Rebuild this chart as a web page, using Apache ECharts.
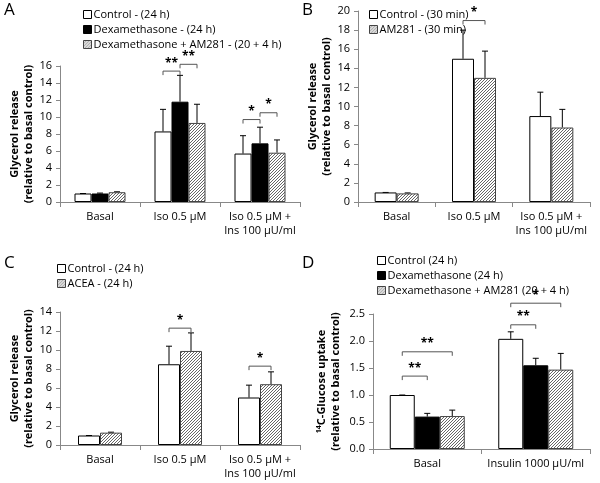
<!DOCTYPE html><html><head><meta charset="utf-8">
<script src="https://cdn.jsdelivr.net/npm/echarts@6/dist/echarts.min.js"></script>
<style>html,body{margin:0;background:#fff}#c{width:600px;height:483px}</style></head><body><div id="c"></div>
<script>
const catsA=['Basal','Iso 0.5 µM','Iso 0.5 µM +\nIns 100 µU/ml'];
const catsD=['Basal','Insulin 1000 µU/ml'];
const A_ctrl=[1.0,8.3,5.7], A_ctrlErr=[1.0,10.9,7.8];
const A_dex=[1.0,11.8,6.9], A_dexErr=[1.05,14.9,8.8];
const A_am=[1.15,9.3,5.8], A_amErr=[1.2,11.5,7.3];
const B_ctrl=[1.0,15.0,9.0], B_ctrlErr=[1.0,18.0,11.5];
const B_am=[0.9,13.0,7.8], B_amErr=[0.95,15.8,9.7];
const C_ctrl=[1.0,8.5,5.0], C_ctrlErr=[1.0,10.4,6.3];
const C_acea=[1.3,9.9,6.4], C_aceaErr=[1.35,11.8,7.7];
const D_ctrl=[1.0,2.04], D_ctrlErr=[1.0,2.17];
const D_dex=[0.6,1.55], D_dexErr=[0.66,1.68];
const D_am=[0.61,1.47], D_amErr=[0.72,1.77];
// brackets: [category, barA, barB, y, label]
const A_sig=[[1,0,1,15.4,'**'],[1,1,2,16.2,'**'],[2,0,1,9.7,'*'],[2,1,2,10.5,'*']];
const B_sig=[[1,0,1,19.0,'*']];
const C_sig=[[1,0,1,12.3,'*'],[2,0,1,8.3,'*']];
const D_sig=[[0,0,1,1.35,'**'],[0,0,2,1.8,'**'],[1,0,1,2.3,'**'],[1,0,2,2.7,'*']];

const cv=document.createElement('canvas');cv.width=3;cv.height=3;
const cx=cv.getContext('2d');cx.fillStyle='#fff';cx.fillRect(0,0,3,3);cx.fillStyle='#666';
cx.fillRect(2,0,1,1);cx.fillRect(1,1,1,1);cx.fillRect(0,2,1,1);
const hatch={image:cv,repeat:'repeat'};
const F='"Open Sans", sans-serif';
const styles={w:{color:'#fff',borderColor:'#000',borderWidth:1},k:{color:'#000',borderColor:'#000',borderWidth:1},h:{color:hatch,borderColor:'#444',borderWidth:1}};

const grids=[],xAxis=[],yAxis=[],series=[],legend=[];
function panel(i,g,cats,ymax,interval,fmt,yname,bw,sets,sig,leg){
  grids.push(g);
  xAxis.push({type:'category',gridIndex:i,data:cats,axisTick:{show:true,alignWithLabel:false,lineStyle:{color:'#888'}},axisLine:{lineStyle:{color:'#888'}},axisLabel:{color:'#000',fontSize:11,fontFamily:F,lineHeight:14,interval:0}});
  yAxis.push({type:'value',gridIndex:i,min:0,max:ymax,interval:interval,splitLine:{show:false},axisLine:{show:true,lineStyle:{color:'#888'}},axisTick:{show:true,length:4,lineStyle:{color:'#888'}},
    axisLabel:{color:'#000',fontSize:11,fontFamily:F,formatter:fmt},name:yname,nameLocation:'middle',nameGap:fmt?30:24,
    nameTextStyle:{fontWeight:'bold',fontSize:11,fontFamily:F,color:'#000',lineHeight:14,rich:{sup:{fontSize:7,fontWeight:'bold',verticalAlign:'top',padding:[0,0,5,0]}}}});
  const n=sets.length;
  sets.forEach((s,k)=>{
    series.push({type:'bar',name:s.name,xAxisIndex:i,yAxisIndex:i,data:s.v,barWidth:bw,barGap:'0%',itemStyle:styles[s.st],animation:false});
  });
  const errData=[];sets.forEach((s,k)=>s.e.forEach((e,c)=>errData.push([c,k,e,s.v[c]])));
  series.push({type:'custom',xAxisIndex:i,yAxisIndex:i,data:errData,silent:true,animation:false,clip:false,
    renderItem:(p,api)=>{const c=api.value(0),k=api.value(1);const top=api.coord([c,api.value(2)]),base=api.coord([c,api.value(3)]);
      const x=top[0]+(k-(n-1)/2)*bw;
      return {type:'group',children:[{type:'line',shape:{x1:x,y1:base[1],x2:x,y2:top[1]},style:{stroke:'#000',lineWidth:1}},{type:'line',shape:{x1:x-3,y1:top[1],x2:x+3,y2:top[1]},style:{stroke:'#000',lineWidth:1}}]};}});
  series.push({type:'custom',xAxisIndex:i,yAxisIndex:i,data:sig.map(s=>s.slice(0,4)),silent:true,animation:false,clip:false,
    renderItem:(p,api)=>{const c=api.value(0),a=api.value(1),b=api.value(2);const pt=api.coord([c,api.value(3)]);
      const xa=pt[0]+(a-(n-1)/2)*bw,xb=pt[0]+(b-(n-1)/2)*bw,y=pt[1];
      return {type:'group',children:[{type:'polyline',shape:{points:[[xa,y+4],[xa,y],[xb,y],[xb,y+4]]},style:{stroke:'#555',lineWidth:1,fill:null}},
        {type:'text',style:{text:sig[p.dataIndex][4],x:(xa+xb)/2,y:y-2,align:'center',verticalAlign:'bottom',fontSize:12,fontWeight:'bold',fill:'#000',fontFamily:F}}]};}});
  legend.push(Object.assign({orient:'vertical',icon:'rect',itemWidth:8,itemHeight:8,itemGap:4,itemStyle:{borderWidth:1},textStyle:{fontSize:11,fontFamily:F,color:'#000',padding:[0,0,0,-3]},data:sets.map(s=>s.name)},leg));
}
panel(0,{left:60,top:66,width:240,height:136},catsA,16,2,null,'Glycerol release\n(relative to basal control)',17,
 [{name:'Control - (24 h)',v:A_ctrl,e:A_ctrlErr,st:'w'},{name:'Dexamethasone - (24 h)',v:A_dex,e:A_dexErr,st:'k'},{name:'Dexamethasone + AM281 - (20 + 4 h)',v:A_am,e:A_amErr,st:'h'}],A_sig,{left:78,top:4});
panel(1,{left:358,top:11,width:232,height:191},catsA,20,2,null,'Glycerol release\n(relative to basal control)',22,
 [{name:'Control - (30 min)',v:B_ctrl,e:B_ctrlErr,st:'w'},{name:'AM281 - (30 min)',v:B_am,e:B_amErr,st:'h'}],B_sig,{left:364,top:4});
panel(2,{left:60,top:312,width:240,height:133},catsA,14,2,null,'Glycerol release\n(relative to basal control)',22,
 [{name:'Control - (24 h)',v:C_ctrl,e:C_ctrlErr,st:'w'},{name:'ACEA - (24 h)',v:C_acea,e:C_aceaErr,st:'h'}],C_sig,{left:52,top:258});
panel(3,{left:373,top:314,width:217,height:135},catsD,2.5,0.5,v=>v.toFixed(1),'{sup|14}C-Glucose uptake\n(relative to basal control)',25,
 [{name:'Control (24 h)',v:D_ctrl,e:D_ctrlErr,st:'w'},{name:'Dexamethasone (24 h)',v:D_dex,e:D_dexErr,st:'k'},{name:'Dexamethasone + AM281 (20 + 4 h)',v:D_am,e:D_amErr,st:'h'}],D_sig,{left:372,top:250});
const ch=echarts.init(document.getElementById('c'),null,{renderer:'canvas'});
ch.setOption({animation:false,grid:grids,xAxis,yAxis,series,legend,
 graphic:[['A',4,2],['B',302,2],['C',4,255],['D',302,255]].map(t=>({type:'text',left:t[1],top:t[2],style:{text:t[0],fontSize:17,fontFamily:F,fill:'#000'}}))});
</script></body></html>
